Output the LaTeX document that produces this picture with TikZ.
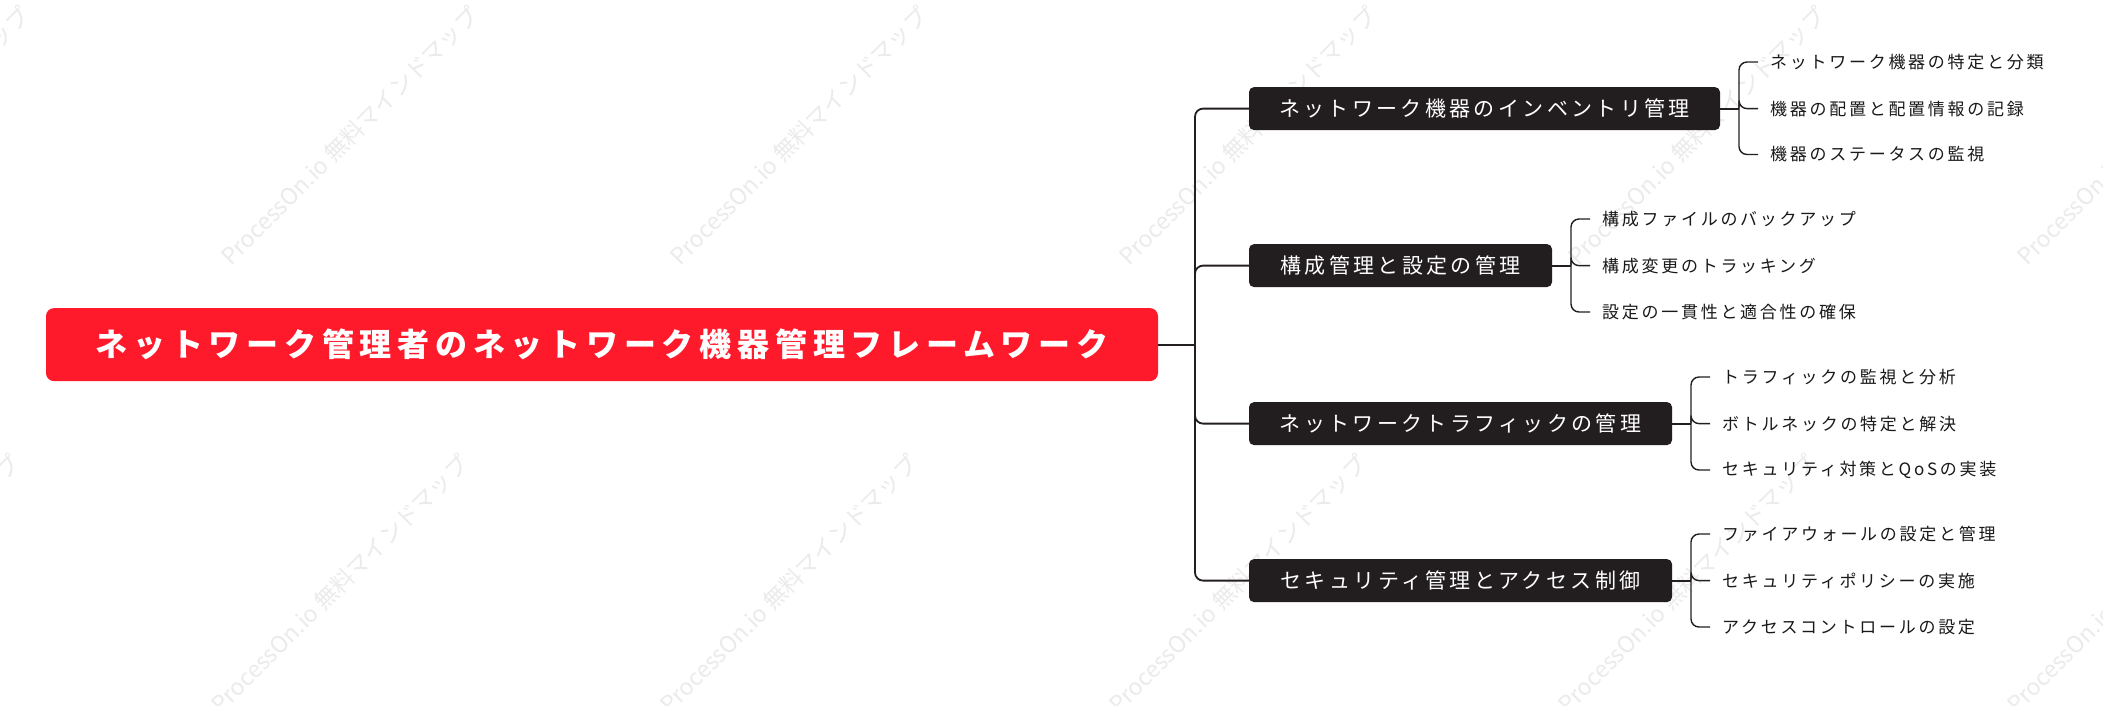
\documentclass[tikz,border=0pt]{standalone}
\usepackage{fontspec}
\setmainfont{Noto Sans CJK JP}
\newfontfamily\rootfont[LetterSpace=18]{Noto Sans CJK JP}
\newfontfamily\midfont[LetterSpace=16]{Noto Sans CJK JP}
\newfontfamily\leaffont[LetterSpace=16]{Noto Sans CJK JP}
\newfontfamily\wmfont{Noto Sans CJK JP}
\definecolor{rootred}{HTML}{FF1A2B}
\definecolor{darkbox}{HTML}{221E1F}
\definecolor{linec}{HTML}{231F20}
\definecolor{wmgray}{HTML}{EBEBEB}
\tikzset{
  rootbox/.style={fill=rootred, rounded corners=8pt, minimum width=1112pt, minimum height=73pt,
    text=white, inner sep=0pt, font=\rootfont\bfseries\fontsize{32}{36}\selectfont},
  midbox/.style={fill=darkbox, rounded corners=5pt, minimum height=43pt,
    text=white, inner sep=0pt, font=\midfont\fontsize{21}{24}\selectfont},
  leaftext/.style={anchor=west, inner xsep=12pt, inner ysep=0pt, text=black!90,
    font=\leaffont\fontsize{17}{20}\selectfont},
  conn/.style={draw=linec, line width=1.8pt},
  leafconn/.style={draw=linec, line width=1.4pt, rounded corners=8pt},
  wm/.style={text=wmgray, rotate=45, anchor=base west, inner sep=0pt,
    font=\wmfont\fontsize{23}{26}\selectfont}
}
\begin{document}
\begin{tikzpicture}[x=1pt, y=-1pt]
\useasboundingbox (0,0) rectangle (2103,705);
\fill[white] (0,0) rectangle (2103,705);
% watermark
\foreach \i/\xx in {0/-218,1/231,2/680,3/1129,4/1578,5/2027}{
  \node[wm] (wma\i) at (\xx,267) {ProcessOn.io 無料マインドマップ};
  \node[wm] (wmb\i) at (\xx-10,715) {ProcessOn.io 無料マインドマップ};
}
% root
\node[rootbox] (root) at (602,344.6) {ネットワーク管理者のネットワーク機器管理フレームワーク};
% level 1
\node[midbox, minimum width=471pt] (B1) at (1484.5,108.6) {ネットワーク機器のインベントリ管理};
\node[midbox, minimum width=303pt] (B2) at (1400.5,265.6) {構成管理と設定の管理};
\node[midbox, minimum width=423pt] (B3) at (1460.5,423.6) {ネットワークトラフィックの管理};
\node[midbox, minimum width=423pt] (B4) at (1460.5,580.6) {セキュリティ管理とアクセス制御};
\coordinate (trunk) at (1195,344.6);
\draw[conn] (root.east) -- (trunk);
\draw[conn, rounded corners=8pt] (trunk) |- (B1.west);
\draw[conn, rounded corners=8pt] (trunk) |- (B2.west);
\draw[conn, rounded corners=8pt] (trunk) |- (B3.west);
\draw[conn, rounded corners=8pt] (trunk) |- (B4.west);
% leaves group 1
\node[leaftext] (L11) at (1758,62) {ネットワーク機器の特定と分類};
\node[leaftext] (L12) at (1758,108.6) {機器の配置と配置情報の記録};
\node[leaftext] (L13) at (1758,154.5) {機器のステータスの監視};
\coordinate (g1) at (1739,108.6);
\draw[conn] (B1.east) -- (g1);
\draw[leafconn] (g1) |- (L11.west);
\draw[leafconn] (g1) |- (L12.west);
\draw[leafconn] (g1) |- (L13.west);
% leaves group 2
\node[leaftext] (L21) at (1590,219) {構成ファイルのバックアップ};
\node[leaftext] (L22) at (1590,265.6) {構成変更のトラッキング};
\node[leaftext] (L23) at (1590,312) {設定の一貫性と適合性の確保};
\coordinate (g2) at (1571,265.6);
\draw[conn] (B2.east) -- (g2);
\draw[leafconn] (g2) |- (L21.west);
\draw[leafconn] (g2) |- (L22.west);
\draw[leafconn] (g2) |- (L23.west);
% leaves group 3
\node[leaftext] (L31) at (1710,377) {トラフィックの監視と分析};
\node[leaftext] (L32) at (1710,423.6) {ボトルネックの特定と解決};
\node[leaftext] (L33) at (1710,470) {セキュリティ対策とQoSの実装};
\coordinate (g3) at (1691,423.6);
\draw[conn] (B3.east) -- (g3);
\draw[leafconn] (g3) |- (L31.west);
\draw[leafconn] (g3) |- (L32.west);
\draw[leafconn] (g3) |- (L33.west);
% leaves group 4
\node[leaftext] (L41) at (1710,534) {ファイアウォールの設定と管理};
\node[leaftext] (L42) at (1710,580.6) {セキュリティポリシーの実施};
\node[leaftext] (L43) at (1710,627) {アクセスコントロールの設定};
\coordinate (g4) at (1691,580.6);
\draw[conn] (B4.east) -- (g4);
\draw[leafconn] (g4) |- (L41.west);
\draw[leafconn] (g4) |- (L42.west);
\draw[leafconn] (g4) |- (L43.west);
\end{tikzpicture}
\end{document}
